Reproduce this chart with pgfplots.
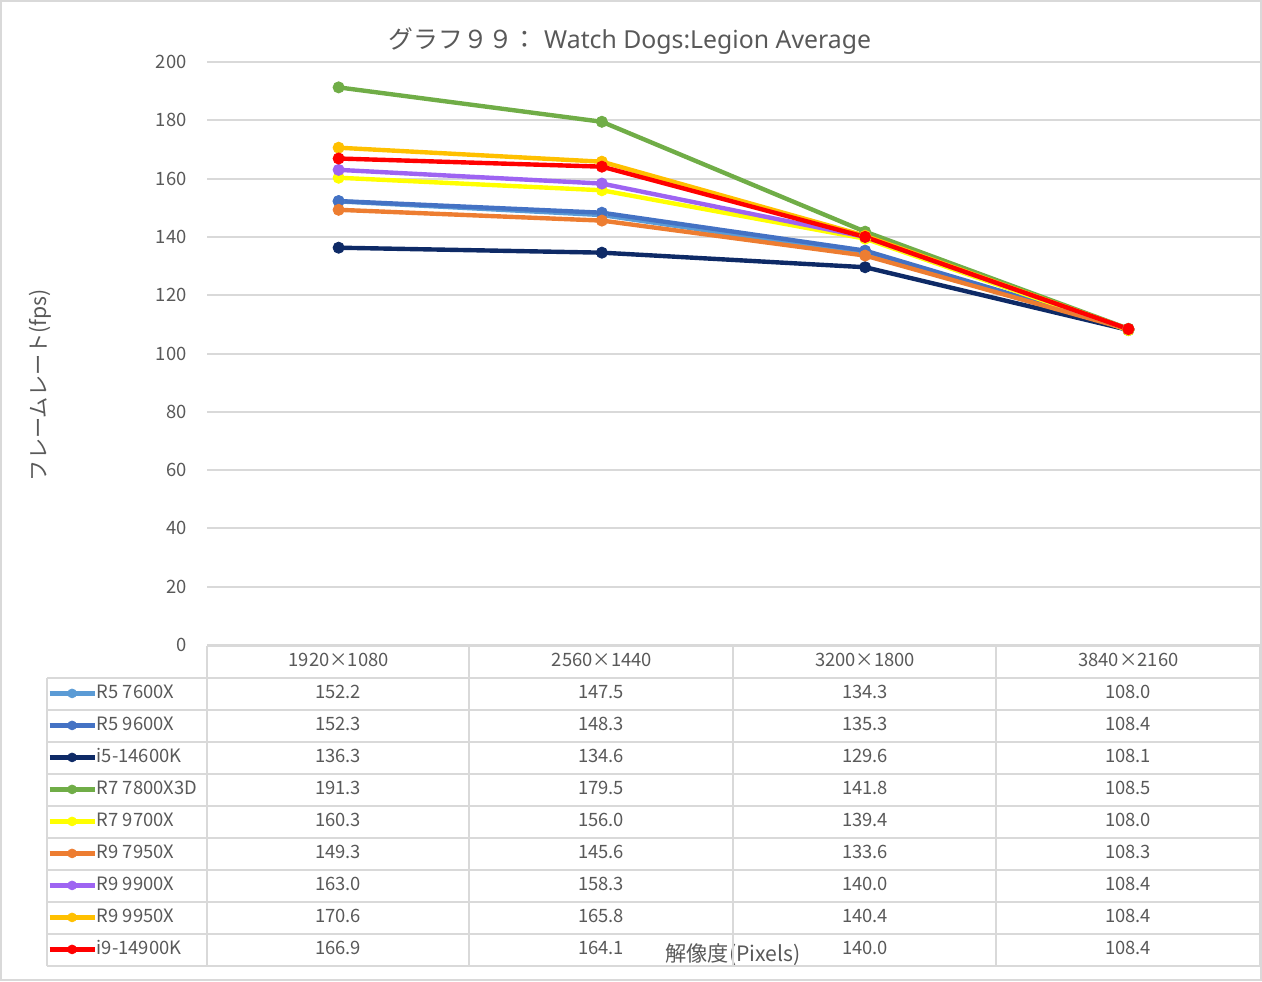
\documentclass[border=0pt]{standalone}
\usepackage{pgfplots}
\pgfplotsset{compat=1.18}
\usepackage{fontspec}
\setmainfont{Noto Sans CJK JP}
\newfontfamily\latin{Noto Sans}
\definecolor{txt}{HTML}{595959}
\definecolor{grd}{HTML}{D9D9D9}
\definecolor{cA}{HTML}{5B9BD5}
\definecolor{cB}{HTML}{4472C4}
\definecolor{cC}{HTML}{0E2A66}
\definecolor{cD}{HTML}{70AD47}
\definecolor{cE}{HTML}{FFFF00}
\definecolor{cF}{HTML}{ED7D31}
\definecolor{cG}{HTML}{9E64F2}
\definecolor{cH}{HTML}{FFC000}
\definecolor{cI}{HTML}{FF0000}
\newcommand{\fs}{\fontsize{9.2}{11}\selectfont}
\begin{document}
\begin{tikzpicture}
\begin{scope}[x=0.5pt,y=-0.5pt]
\path[use as bounding box] (0,0) rectangle (1262,981);
\draw[grd, line width=1pt] (1,1) rectangle (1261,980);
\end{scope}
\begin{axis}[
  at={(103.5pt,-322.5pt)}, anchor=south west,
  scale only axis, width=526.5pt, height=291.5pt,
  xmin=-0.5, xmax=3.5, ymin=0, ymax=200,
  xtick={0,1,2,3}, xticklabels={1920×1080,2560×1440,3200×1800,3840×2160},
  ytick={0,20,...,200},
  ymajorgrids, grid style={grd, line width=1pt},
  axis line style={draw=none}, major tick length=0pt,
  tick label style={text=txt, font=\fs},
  yticklabel style={inner sep=0pt, xshift=-10pt},
  xticklabel style={anchor=base, inner sep=0pt, yshift=-10.75pt},
  /pgf/number format/assume math mode=true,
  clip=false,
  title={グラフ９９：{\latin\ Watch Dogs:Legion Average}},
  title style={at={(axis description cs:0.4017,1.0155)}, anchor=center, font=\fontsize{12.4}{14}\selectfont, text=txt, inner sep=0pt},
  ylabel={フレームレート(fps)},
  ylabel style={at={(axis description cs:-0.1586,0.446)}, anchor=center, font=\fontsize{10.6}{12}\selectfont, text=txt, inner sep=0pt},
  xlabel={解像度(Pixels)},
  xlabel style={at={(axis description cs:0.4995,-0.5317)}, anchor=center, font=\fontsize{10.6}{12}\selectfont, text=txt, inner sep=0pt},
  legend style={at={(axis description cs:-0.15195,-0.0669)}, anchor=north west, draw=none, fill=none, inner sep=0pt, row sep=7pt,
    nodes={inner sep=0pt, text height=7pt, text depth=2pt, text=txt, font=\fs},
    /tikz/every odd column/.style={column sep=0pt}},
  legend cell align=left,
  legend image code/.code={\draw[mark repeat=2,mark phase=2,#1,mark size=2.2pt] plot coordinates {(0pt,0pt) (11.25pt,0pt) (22.5pt,0pt)};},
  every axis plot/.append style={line width=2.2pt, mark=*, mark size=2.8pt, mark options={solid, line width=0.4pt}},
]
\addplot[color=cA] coordinates {(0,152.2) (1,147.5) (2,134.3) (3,108.0)};
\addlegendentry{R5 7600X}
\addplot[color=cB] coordinates {(0,152.3) (1,148.3) (2,135.3) (3,108.4)};
\addlegendentry{R5 9600X}
\addplot[color=cC] coordinates {(0,136.3) (1,134.6) (2,129.6) (3,108.1)};
\addlegendentry{i5-14600K}
\addplot[color=cD] coordinates {(0,191.3) (1,179.5) (2,141.8) (3,108.5)};
\addlegendentry{R7 7800X3D}
\addplot[color=cE] coordinates {(0,160.3) (1,156.0) (2,139.4) (3,108.0)};
\addlegendentry{R7 9700X}
\addplot[color=cF] coordinates {(0,149.3) (1,145.6) (2,133.6) (3,108.3)};
\addlegendentry{R9 7950X}
\addplot[color=cG] coordinates {(0,163.0) (1,158.3) (2,140.0) (3,108.4)};
\addlegendentry{R9 9900X}
\addplot[color=cH] coordinates {(0,170.6) (1,165.8) (2,140.4) (3,108.4)};
\addlegendentry{R9 9950X}
\addplot[color=cI] coordinates {(0,166.9) (1,164.1) (2,140.0) (3,108.4)};
\addlegendentry{i9-14900K}
\end{axis}
\begin{scope}[x=0.5pt,y=-0.5pt]
\draw[grd, line width=1pt] (207,646) -- (1260,646);
\foreach \y in {678,710,...,966} \draw[grd, line width=1pt] (47,\y) -- (1260,\y);
\draw[grd, line width=1pt] (47,678) -- (47,966);
\foreach \x in {207,469,733,996,1260} \draw[grd, line width=1pt] (\x,646) -- (\x,966);
\foreach \a/\b/\c/\d [count=\i] in {152.2/147.5/134.3/108.0, 152.3/148.3/135.3/108.4, 136.3/134.6/129.6/108.1, 191.3/179.5/141.8/108.5, 160.3/156.0/139.4/108.0, 149.3/145.6/133.6/108.3, 163.0/158.3/140.0/108.4, 170.6/165.8/140.4/108.4, 166.9/164.1/140.0/108.4} {
  \node[anchor=base, inner sep=0pt, text=txt, font=\fs] at (338,698+32*\i-32) {\a};
  \node[anchor=base, inner sep=0pt, text=txt, font=\fs] at (601,698+32*\i-32) {\b};
  \node[anchor=base, inner sep=0pt, text=txt, font=\fs] at (865,698+32*\i-32) {\c};
  \node[anchor=base, inner sep=0pt, text=txt, font=\fs] at (1128,698+32*\i-32) {\d};
}
\end{scope}
\end{tikzpicture}
\end{document}
